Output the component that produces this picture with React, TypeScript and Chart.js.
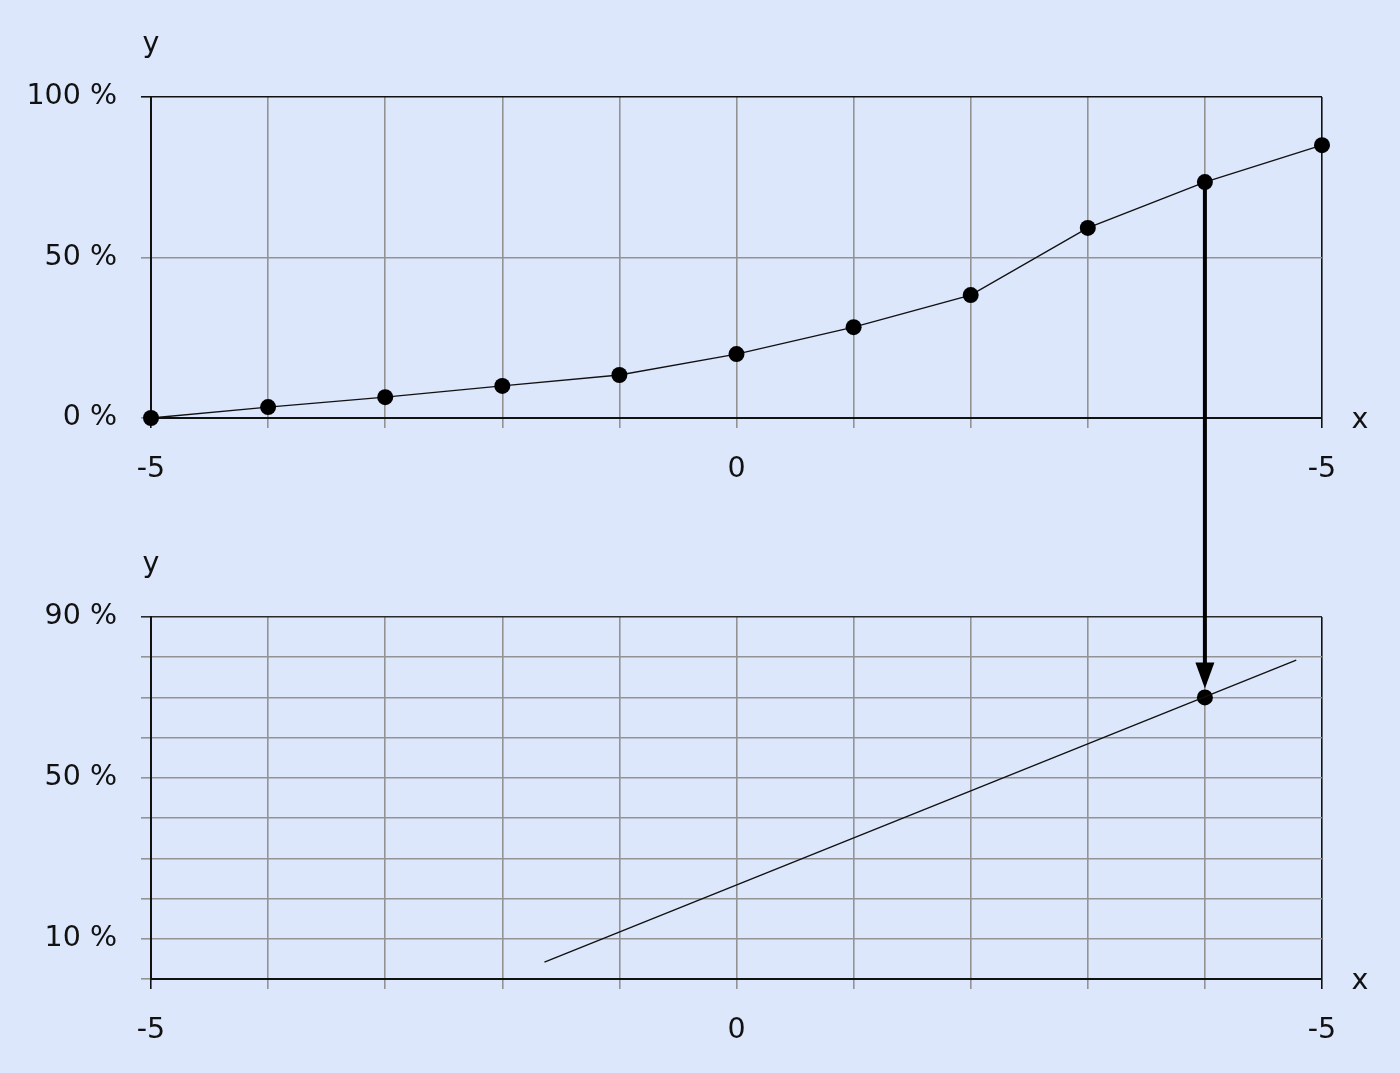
import React, { useEffect, useRef } from "react";
import { Chart, registerables } from "chart.js";

Chart.register(...registerables);

// ---- data ----
const xValues = [-5, -4, -3, -2, -1, 0, 1, 2, 3, 4, 5];
const topYValues = [0, 3.4, 6.5, 10, 13.4, 19.9, 28.3, 38.3, 59.2, 73.5, 85];
const xTickLabels: Record<string, string> = { "-5": "-5", "0": "0", "5": "-5" };
const topYTickLabels: Record<string, string> = { "0": "0 %", "50": "50 %", "100": "100 %" };
const bottomYTickLabels: Record<string, string> = { "10": "10 %", "50": "50 %", "90": "90 %" };
const bottomLineX = [-1.64, 4.78];
const bottomLineY = [4.2, 79.3];
const highlightX = [4];
const highlightY = [70];
const arrowX = 4;
const arrowFromY = 73.5; // top panel value
const arrowToY = 70; // bottom panel value

const FONT = "'DejaVu Sans', sans-serif";
const FONT_SIZE = 28.5;
const BG = "#dce7fc";
const GRID = "#939393";
const DARK = "#111111";

const W = 1400;
const TOP_H = 520;
const BOT_H = 553;
const LEFT = 151;
const RIGHT_PAD = 78;
const TOP_PAD = 97;

function gridColorX(ctx: any) {
  const v = ctx.tick ? ctx.tick.value : 0;
  return v === 5 || v === -5 ? DARK : GRID;
}

function axisTitles(id: string) {
  return {
    id,
    afterDraw(chart: any) {
      const { ctx, chartArea } = chart;
      ctx.save();
      ctx.fillStyle = DARK;
      ctx.font = `${FONT_SIZE}px ${FONT}`;
      ctx.textAlign = "center";
      ctx.textBaseline = "middle";
      ctx.fillText("y", chartArea.left, chartArea.top - 52);
      ctx.fillText("x", chartArea.right + 38, chartArea.bottom + 3);
      ctx.restore();
    },
  };
}

function xScale(height: number) {
  return {
    type: "linear",
    min: -5,
    max: 5,
    afterFit: (s: any) => {
      s.height = height;
    },
    ticks: {
      stepSize: 1,
      autoSkip: false,
      maxRotation: 0,
      padding: 24,
      color: DARK,
      font: { family: FONT, size: FONT_SIZE },
      callback: (v: any) => xTickLabels[String(v)] ?? "",
    },
    grid: {
      color: gridColorX,
      lineWidth: 1.6,
      tickLength: 10,
      drawTicks: true,
    },
    border: { color: DARK, width: 2 },
  };
}

export default function App() {
  const topRef = useRef<HTMLCanvasElement>(null);
  const botRef = useRef<HTMLCanvasElement>(null);

  useEffect(() => {
    const topData = xValues.map((x, i) => ({ x, y: topYValues[i] }));
    const topChart = new Chart(topRef.current as HTMLCanvasElement, {
      type: "line",
      data: {
        datasets: [
          {
            data: topData,
            borderColor: DARK,
            borderWidth: 1.4,
            pointRadius: 8,
            pointBackgroundColor: "#000",
            pointBorderColor: "#000",
            pointBorderWidth: 0,
            clip: false as any,
          },
        ],
      },
      options: {
        animation: false,
        responsive: false,
        layout: { padding: { top: TOP_PAD, right: RIGHT_PAD, left: 0, bottom: 0 } },
        plugins: { legend: { display: false }, tooltip: { enabled: false } },
        scales: {
          x: xScale(102) as any,
          y: {
            type: "linear",
            min: 0,
            max: 100,
            afterFit: (s: any) => {
              s.width = LEFT;
            },
            ticks: {
              stepSize: 50,
              padding: 24,
              color: DARK,
              font: { family: FONT, size: FONT_SIZE },
              callback: (v: any) => topYTickLabels[String(v)] ?? "",
            },
            grid: {
              color: (ctx: any) => (ctx.tick && ctx.tick.value === 100 ? DARK : GRID),
              lineWidth: 1.6,
              tickLength: 10,
            },
            border: { color: DARK, width: 2 },
          },
        },
      },
      plugins: [
        axisTitles("titlesTop"),
        {
          id: "arrowTop",
          beforeDatasetsDraw(chart: any) {
            const { ctx } = chart;
            const x = chart.scales.x.getPixelForValue(arrowX);
            const y = chart.scales.y.getPixelForValue(arrowFromY);
            ctx.save();
            ctx.strokeStyle = "#000";
            ctx.lineWidth = 4;
            ctx.beginPath();
            ctx.moveTo(x, y);
            ctx.lineTo(x, chart.height + 2);
            ctx.stroke();
            ctx.restore();
          },
        },
      ],
    } as any);

    const botChart = new Chart(botRef.current as HTMLCanvasElement, {
      type: "line",
      data: {
        datasets: [
          {
            data: bottomLineX.map((x, i) => ({ x, y: bottomLineY[i] })),
            borderColor: DARK,
            borderWidth: 1.4,
            pointRadius: 0,
            clip: false as any,
          },
          {
            data: highlightX.map((x, i) => ({ x, y: highlightY[i] })),
            showLine: false,
            pointRadius: 8,
            pointBackgroundColor: "#000",
            pointBorderColor: "#000",
            pointBorderWidth: 0,
            clip: false as any,
          },
        ],
      },
      options: {
        animation: false,
        responsive: false,
        layout: { padding: { top: TOP_PAD, right: RIGHT_PAD, left: 0, bottom: 0 } },
        plugins: { legend: { display: false }, tooltip: { enabled: false } },
        scales: {
          x: xScale(94) as any,
          y: {
            type: "linear",
            min: 0,
            max: 90,
            afterFit: (s: any) => {
              s.width = LEFT;
            },
            ticks: {
              stepSize: 10,
              padding: 24,
              color: DARK,
              font: { family: FONT, size: FONT_SIZE },
              callback: (v: any) => bottomYTickLabels[String(v)] ?? "",
            },
            grid: {
              color: (ctx: any) => (ctx.tick && ctx.tick.value === 90 ? "#2a2a2a" : GRID),
              lineWidth: 1.6,
              tickLength: 10,
            },
            border: { color: DARK, width: 2 },
          },
        },
      },
      plugins: [
        axisTitles("titlesBot"),
        {
          id: "arrowBot",
          afterDatasetsDraw(chart: any) {
            const { ctx } = chart;
            const x = chart.scales.x.getPixelForValue(arrowX);
            const yPt = chart.scales.y.getPixelForValue(arrowToY);
            const tip = yPt - 9;
            const headH = 26;
            const headW = 19;
            ctx.save();
            ctx.strokeStyle = "#000";
            ctx.fillStyle = "#000";
            ctx.lineWidth = 4;
            ctx.beginPath();
            ctx.moveTo(x, -2);
            ctx.lineTo(x, tip - headH + 2);
            ctx.stroke();
            ctx.beginPath();
            ctx.moveTo(x - headW / 2, tip - headH);
            ctx.lineTo(x + headW / 2, tip - headH);
            ctx.lineTo(x, tip);
            ctx.closePath();
            ctx.fill();
            ctx.restore();
          },
        },
      ],
    } as any);

    return () => {
      topChart.destroy();
      botChart.destroy();
    };
  }, []);

  return (
    <div
      style={{
        position: "absolute",
        left: 0,
        top: 0,
        width: W,
        height: TOP_H + BOT_H,
        background: BG,
        overflow: "hidden",
      }}
    >
      <canvas
        ref={topRef}
        width={W}
        height={TOP_H}
        style={{ position: "absolute", left: 0, top: 0, width: W, height: TOP_H, display: "block" }}
      />
      <canvas
        ref={botRef}
        width={W}
        height={BOT_H}
        style={{ position: "absolute", left: 0, top: TOP_H, width: W, height: BOT_H, display: "block" }}
      />
    </div>
  );
}
